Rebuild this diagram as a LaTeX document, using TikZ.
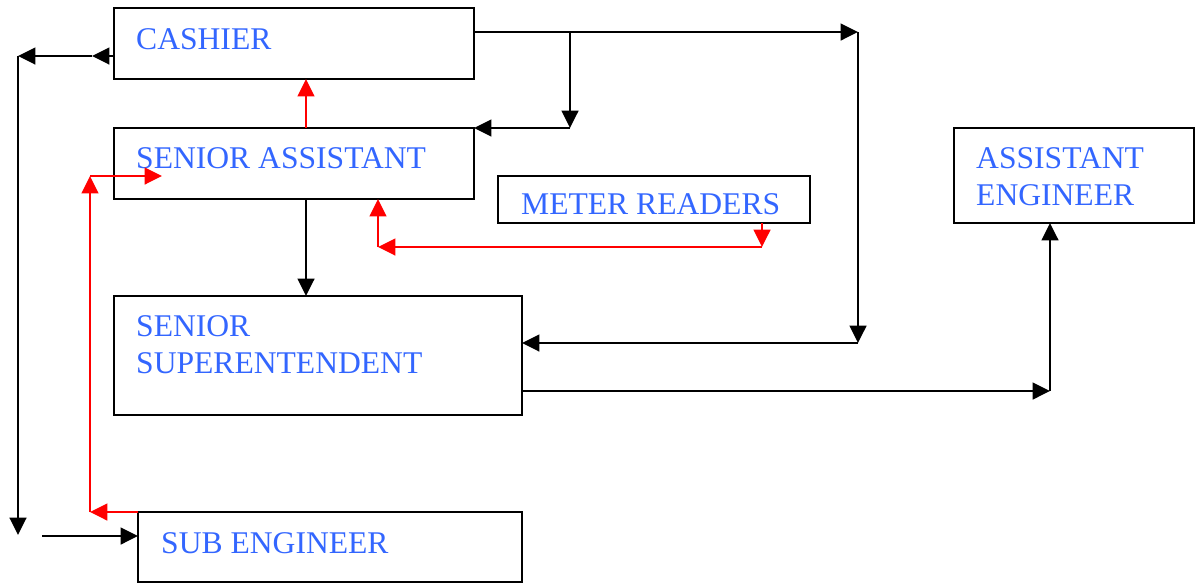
\documentclass[tikz,border=0pt]{standalone}
\usepackage{fontspec}
\setmainfont{Liberation Serif}
\usepackage{tikz}
\usetikzlibrary{arrows.meta}
\usetikzlibrary{positioning}
\usetikzlibrary{calc}
\definecolor{post blue}{RGB}{51,102,255}
\tikzstyle{post}=[draw,rectangle,line width=1.8pt,anchor=north west,inner sep=0pt,outer sep=0pt]
\tikzstyle{title}=[anchor=base west,inner sep=0pt,text=post blue,align=left,font=\fontsize{23.7}{27.75}\selectfont]

\begin{document}
\begin{tikzpicture}[
  x=0.75pt,y=-0.75pt,
  line width=1.8pt,
  >={Triangle[length=13pt,width=12.5pt]},
  link/.style={->},
  red link/.style={->,red},
]
\useasboundingbox (0,0) rectangle (1199,583);
  % the posts
  \node[post,minimum width=270pt,minimum height=53.25pt] (c) at (114,8) {};
  \node[post,minimum width=270pt,minimum height=53.25pt] (a) at (114,128) {};
  \node[post,minimum width=234pt,minimum height=35.25pt] (m) at (498,176) {};
  \node[post,minimum width=180pt,minimum height=71.25pt] (e) at (954,128) {};
  \node[post,minimum width=306pt,minimum height=89.25pt] (u) at (114,296) {};
  \node[post,minimum width=288pt,minimum height=52.5pt] (s) at (138,512) {};
  \node[title] (ct) at ([shift={(21,41)}]c.north west) {CASHIER};
  \node[title] (at) at ([shift={(21,40)}]a.north west) {SENIOR ASSISTANT};
  \node[title] (mt) at ([shift={(22,38)}]m.north west) {METER READERS};
  % two lines: base is the last one
  \node[title] (et) at ([shift={(21,77)}]e.north west) {ASSISTANT\\ENGINEER};
  \node[title] (ut) at ([shift={(21,77)}]u.north west) {SENIOR\\SUPERENTENDENT};
  \node[title] (st) at ([shift={(22,41)}]s.north west) {SUB ENGINEER};

  \coordinate (A) at (92,56);
  \coordinate (B) at (18,56);
  \coordinate (C) at (18,535);
  \coordinate (D) at (42,536);
  \coordinate (E) at (570,32);
  \coordinate (F) at (858,32);
  \coordinate (G) at (858,343);
  \coordinate (H) at (306,0);
  \coordinate (I) at (762,247);
  \coordinate (J) at (378,247);
  \coordinate (K) at (90,512);
  \coordinate (L) at (90,176);
  \coordinate (M) at (162,176);
  \coordinate (N) at (1050,391);

  \draw[link] (c.west |- A) -- (A);
  \draw[link] (A) -- (B);
  \draw[link] (B) -- (C);
  \draw[link] (D) -- (D -| s.west);
  \draw[link] (c.east |- F) -- (F);
  \draw[link] (F) -- (G);
  \draw[link] (G) -- (G -| u.east);
  \draw[link] (E) -- (E |- a.north);
  \draw[link] (E |- a.north) -- (a.north east);
  \draw[link] (a.south -| H) -- (u.north -| H);
  \draw[link] (u.east |- N) -- (N);
  \draw[link] (N) -- (N |- e.south);

  \draw[red link] (a.north -| H) -- (c.south -| H);
  \draw[red link] (m.south -| I) -- (I);
  \draw[red link] (I) -- (J);
  \draw[red link] (J) -- (J |- a.south);
  \draw[red link] (s.north west) -- (K);
  \draw[red link] (K) -- (L);
  \draw[red link] (L) -- (M);
  %\draw[red link] (K) -- (L) -- (M);
\end{tikzpicture}
\end{document}
